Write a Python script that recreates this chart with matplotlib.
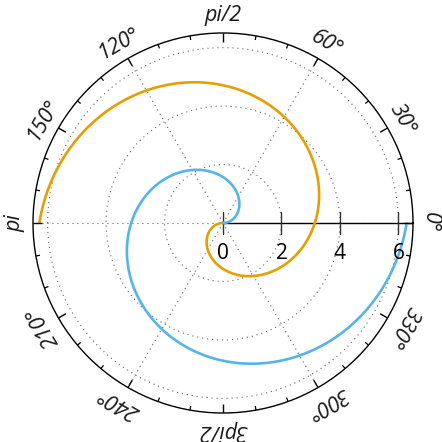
# import
import matplotlib.pyplot as plt
import numpy as np

# data: both curves are the spiral r = angle, the orange one turned by half a turn
radius = np.arange(0, 2 * np.pi, 0.01)
blue_theta = radius
orange_theta = radius + np.pi

r_ticks = [0, 2, 4, 6]
r_grid = [2, 4, 6]
theta_ticks_deg = [0, 30, 60, 90, 120, 150, 180, 210, 240, 270, 300, 330]
theta_labels = ['0°', '30°', '60°', 'pi/2', '120°', '150°',
                'pi', '210°', '240°', '3pi/2', '300°', '330°']
theta_minor_deg = [d for d in range(0, 360, 10) if d % 30]
theta_grid_deg = [0, 60, 120, 180, 240, 300]
r_max = 6.5

plt.rcParams['font.family'] = ['Open Sans', 'DejaVu Sans']

rect = [33 / 442, 29 / 442, 380 / 442, 380 / 442]
fig = plt.figure(figsize=(4.42, 4.42), dpi=100)
ax = fig.add_axes(rect, projection='polar')

# spirals
ax.plot(orange_theta, radius, color='#E69F00', lw=1.9, zorder=3)
ax.plot(blue_theta, radius, color='#56B4E9', lw=1.9, zorder=3)

grid_style = dict(linestyle=(0, (1, 3.5)), color='0.4', lw=0.8)

# radial grid circles
ax.set_yticks(r_grid)
ax.set_yticklabels([])
ax.yaxis.grid(True, **grid_style)

# angular gridlines
ax.set_xticks(np.deg2rad(theta_grid_deg))
ax.set_xticklabels([])
ax.xaxis.grid(True, **grid_style)
ax.tick_params(axis='x', length=0)

ax.set_ylim(0, r_max)
ax.spines['polar'].set_linewidth(1.0)
ax.spines['polar'].set_color('black')

# angle labels, turned along the circle
for deg, lab in zip(theta_ticks_deg, theta_labels):
    ax.text(np.deg2rad(deg), 7.1, lab, rotation=deg - 90, rotation_mode='anchor',
            ha='center', va='center', style='italic', fontsize=15.5, color='#1a1a1a')

# radial axis along 0 degrees
ax.plot([0, 0], [0, r_max], color='black', lw=1.0, zorder=2)
ax.plot(np.zeros(len(r_ticks)), r_ticks, ls='none', marker='|', ms=16,
        mew=1.0, color='0.2', zorder=2)
for r in r_ticks:
    ax.annotate(str(r), xy=(0, r), xytext=(0, -22), textcoords='offset points',
                ha='center', va='center', fontsize=15, color='black')

# inward ticks on the outer circle, drawn on a plain overlay (unit circle = r_max)
ov = fig.add_axes(rect, label='ticks')
ov.set_xlim(-1, 1)
ov.set_ylim(-1, 1)
ov.axis('off')
for angles, length, width in [(theta_ticks_deg, 0.045, 1.0), (theta_minor_deg, 0.022, 0.9)]:
    a = np.deg2rad(angles)
    for ai in a:
        ov.plot([np.cos(ai), (1 - length) * np.cos(ai)],
                [np.sin(ai), (1 - length) * np.sin(ai)],
                color='black', lw=width, solid_capstyle='butt')

fig.savefig('out.png', dpi=100)
